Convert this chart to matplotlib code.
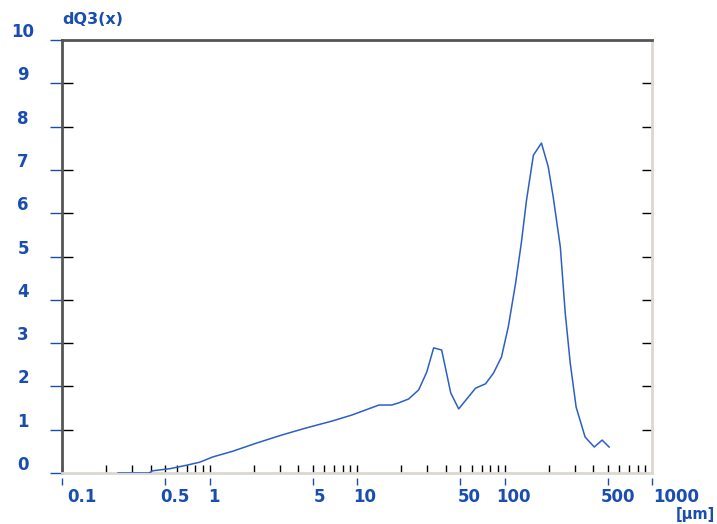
import matplotlib
matplotlib.use('Agg')
import matplotlib.pyplot as plt
from matplotlib.ticker import FixedLocator, NullFormatter, NullLocator
from matplotlib.transforms import ScaledTranslation

# particle size [um] and density distribution dQ3(x)
size_um = [0.24, 0.39, 0.41, 0.54, 0.70, 0.86, 1.05, 1.43, 2.08, 3.11, 4.52, 6.78,
           9.25, 14.1, 17.2, 19.2, 22.4, 26.2, 29.7, 33.1, 37.5, 43.2, 48.9,
           63.7, 74.4, 84.3, 95.4, 106, 119, 130, 141, 157, 178, 198, 214,
           239, 258, 279, 306, 352, 406, 459, 512]
dq3 = [0.0, 0.0, 0.05, 0.10, 0.18, 0.25, 0.37, 0.50, 0.69, 0.88, 1.04, 1.20,
       1.34, 1.57, 1.57, 1.62, 1.71, 1.92, 2.33, 2.89, 2.84, 1.85, 1.48,
       1.96, 2.06, 2.31, 2.68, 3.37, 4.39, 5.31, 6.30, 7.34, 7.62, 7.07, 6.37,
       5.22, 3.70, 2.54, 1.52, 0.83, 0.60, 0.76, 0.60]

yticks = list(range(11))
xtick_vals = [0.1, 0.5, 1, 5, 10, 50, 100, 500, 1000]
xtick_labels = ['0.1', '0.5', '1', '5', '10', '50', '100', '500', '1000']
# horizontal nudges (px) of the x labels as drawn in the original
xlabel_shift = [20, 10, 4, 7, 8, 9, 9, 10, 24]

blue = '#1a4db0'
line_blue = '#2b5fc6'
dark = '#555555'
light = '#dcd8d0'

fig = plt.figure(figsize=(7.17, 5.24), dpi=100, facecolor='white')
ax = fig.add_axes([62/717, 1-473/524, 590/717, 433/524])

ax.plot(size_um, dq3, color=line_blue, lw=1.1, zorder=3)

ax.set_xscale('log')
ax.set_xlim(0.1, 1000)
ax.set_ylim(0, 10)

for s in ['left', 'top']:
    ax.spines[s].set_color(dark)
    ax.spines[s].set_linewidth(2)
for s in ['right', 'bottom']:
    ax.spines[s].set_color(light)
    ax.spines[s].set_linewidth(2)

# black inner ticks at every 1..9 multiple
inner = [m * 10**e for e in range(-1, 3) for m in range(1, 10)]
ax.xaxis.set_major_locator(FixedLocator(inner))
ax.xaxis.set_minor_locator(NullLocator())
ax.xaxis.set_major_formatter(NullFormatter())
ax.xaxis.set_minor_formatter(NullFormatter())
ax.tick_params(axis='x', direction='in', length=6, width=1, color='black')

# blue y ticks and labels
ax.yaxis.set_major_locator(FixedLocator(yticks))
ax.tick_params(axis='y', direction='out', length=9, width=1, color=blue,
               labelcolor=blue, pad=19)
for lab in ax.get_yticklabels():
    lab.set_fontsize(12)
    lab.set_fontweight('bold')
    lab.set_horizontalalignment('center')
    lab.set_transform(lab.get_transform() + ScaledTranslation(0, 0.10, fig.dpi_scale_trans))

# black inner y ticks on both sides
for side, ln in [('left', 8), ('right', 7)]:
    sec = ax.secondary_yaxis(side)
    sec.yaxis.set_major_locator(FixedLocator(yticks[1:-1]))
    sec.yaxis.set_major_formatter(NullFormatter())
    sec.tick_params(direction='in', length=ln, width=1, color='black')
    for s in sec.spines.values():
        s.set_visible(False)

# blue labelled x ticks, slightly below the axis
secx = ax.secondary_xaxis(-0.012)
secx.xaxis.set_major_locator(FixedLocator(xtick_vals))
secx.xaxis.set_minor_locator(NullLocator())
secx.set_xticklabels(xtick_labels)
secx.tick_params(direction='out', length=5, width=1, color=blue, labelcolor=blue, pad=2)
for s in secx.spines.values():
    s.set_visible(False)
for lab, dx in zip(secx.get_xticklabels(), xlabel_shift):
    lab.set_fontsize(12)
    lab.set_fontweight('bold')
    lab.set_transform(lab.get_transform() + ScaledTranslation(dx/100, 0, fig.dpi_scale_trans))

fig.text(62/717, 1-20/524, 'dQ3(x)', color=blue, fontsize=11.5, fontweight='bold',
         ha='left', va='center')
fig.text(695/717, 1-514/524, '[µm]', color=blue, fontsize=10.5, fontweight='bold',
         ha='center', va='center')

fig.savefig('out.png', dpi=100, facecolor='white')
